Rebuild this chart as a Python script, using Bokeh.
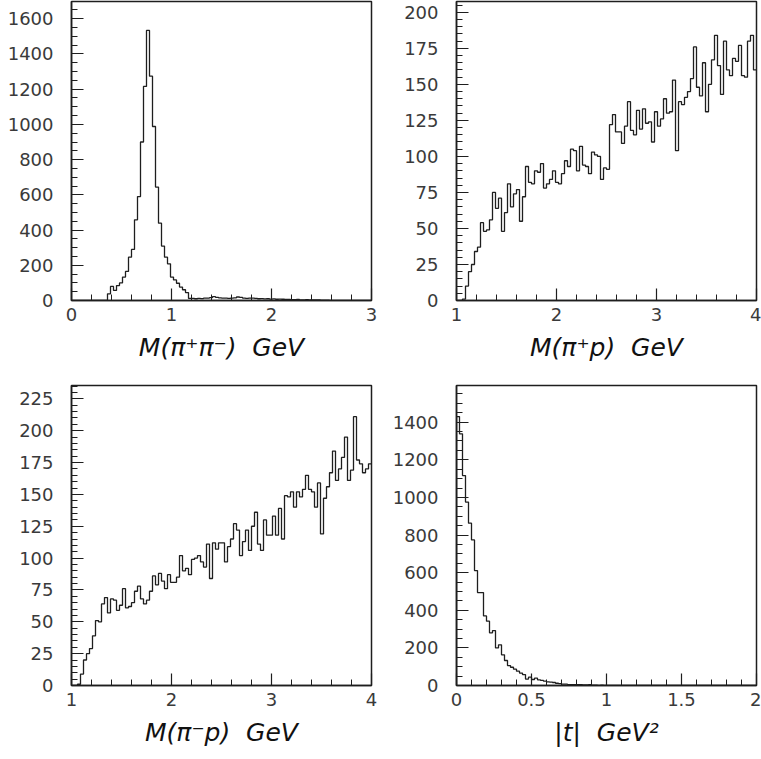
import numpy as np
from bokeh.plotting import figure
from bokeh.models import FixedTicker, Range1d, NumeralTickFormatter
from bokeh.layouts import column, row
from bokeh.embed import file_html
from bokeh.resources import INLINE

# ---------------- data (bin contents) ----------------
# M(pi+ pi-) : 100 bins, 0 .. 3 GeV
mpipi_lo, mpipi_width = 0.0, 0.03
mpipi_counts = [
    0, 0, 0, 0, 0, 0, 0, 0, 0, 0,
    0, 0, 38, 80, 57, 85, 100, 133, 165, 246,
    290, 458, 590, 900, 1216, 1534, 1274, 988, 644, 439,
    309, 246, 208, 133, 117, 98, 76, 61, 45, 12,
    12, 10, 12, 11, 13, 14, 16, 22, 18, 15,
    14, 13, 12, 14, 15, 20, 18, 14, 12, 13,
    14, 12, 10, 11, 9, 10, 8, 9, 7, 8,
    7, 6, 6, 5, 5, 6, 4, 4, 5, 3,
    4, 3, 3, 2, 2, 2, 1, 1, 1, 1,
    0, 0, 0, 0, 0, 0, 0, 0, 0, 0,
]

# M(pi+ p) : 100 bins, 1 .. 4 GeV
mpip_lo, mpip_width = 1.0, 0.03
mpip_counts = [
    0, 0, 1, 10, 20, 25, 34, 37, 54, 48,
    49, 56, 75, 64, 71, 48, 61, 81, 65, 74,
    77, 55, 72, 93, 82, 81, 90, 89, 95, 78,
    81, 84, 90, 82, 81, 88, 97, 93, 105, 104,
    90, 107, 94, 93, 88, 103, 101, 100, 84, 92,
    91, 122, 129, 117, 117, 109, 121, 138, 118, 115,
    132, 119, 133, 123, 124, 110, 131, 121, 126, 140,
    130, 131, 153, 104, 138, 136, 141, 145, 154, 176,
    148, 142, 165, 131, 150, 167, 184, 163, 143, 180,
    160, 156, 168, 166, 177, 156, 155, 180, 184, 160,
]

# M(pi- p) : 100 bins, 1 .. 4 GeV
mpimp_lo, mpimp_width = 1.0, 0.03
mpimp_counts = [
    0, 0, 1, 9, 20, 25, 29, 39, 51, 50,
    64, 69, 57, 68, 67, 59, 63, 76, 61, 62,
    65, 74, 78, 68, 64, 67, 74, 86, 79, 88,
    82, 76, 87, 81, 81, 85, 102, 90, 92, 87,
    99, 100, 102, 97, 93, 111, 84, 112, 107, 112,
    112, 97, 109, 115, 127, 122, 102, 113, 122, 106,
    125, 136, 111, 106, 130, 118, 118, 133, 118, 139,
    115, 149, 148, 152, 140, 152, 148, 154, 165, 154,
    152, 140, 159, 119, 147, 156, 167, 184, 161, 170,
    179, 195, 161, 169, 211, 177, 174, 167, 170, 174,
]

# |t| : 100 bins, 0 .. 2 GeV^2
t_lo, t_width = 0.0, 0.02
t_counts = [
    1430, 1338, 1116, 975, 863, 774, 611, 494, 494, 370,
    342, 280, 292, 200, 216, 163, 133, 106, 97, 87,
    76, 66, 58, 34, 44, 32, 39, 30, 27, 23,
    19, 18, 16, 12, 10, 7, 7, 5, 5, 5,
    4, 4, 3, 3, 4, 2, 2, 1, 2, 1,
    1, 1, 0, 1, 0, 0, 0, 0, 0, 0,
    0, 0, 0, 0, 0, 0, 0, 0, 0, 0,
    0, 0, 0, 0, 0, 0, 0, 0, 0, 0,
    0, 0, 0, 0, 0, 0, 0, 0, 0, 0,
    0, 0, 0, 0, 0, 0, 0, 0, 0, 0,
]

titles = ["M(\u03c0\u207a\u03c0\u207b)\u00a0\u00a0GeV",
          "M(\u03c0\u207ap)\u00a0\u00a0GeV",
          "M(\u03c0\u207bp)\u00a0\u00a0GeV",
          "|t|\u00a0\u00a0GeV\u00b2"]

INK = "#1e1e1e"
LABEL = "#3a3a3a"


def hist_fig(counts, lo, width, xr, yr, xmaj, xminor, ymaj, yminor, xlabel,
             fig_w, fig_h, b_left, b_right, b_top, b_bottom):
    p = figure(width=fig_w, height=fig_h,
               x_range=Range1d(*xr), y_range=Range1d(*yr),
               output_backend="svg", toolbar_location=None,
               min_border_left=b_left, min_border_right=b_right,
               min_border_top=b_top, min_border_bottom=b_bottom,
               background_fill_color="white", border_fill_color="white")
    p.grid.visible = False
    p.outline_line_color = INK
    p.outline_line_width = 1.5

    n = len(counts)
    edges = lo + width * np.arange(n + 1)
    xs = np.concatenate([[edges[0]], edges])
    ys = np.concatenate([[0.0], np.asarray(counts, float), [counts[-1]]])
    p.step(xs, ys, mode="after", line_color=INK, line_width=1.3)

    p.xaxis.ticker = FixedTicker(ticks=xmaj, minor_ticks=xminor)
    p.yaxis.ticker = FixedTicker(ticks=ymaj, minor_ticks=yminor)
    for ax in (p.xaxis[0], p.yaxis[0]):
        ax.formatter = NumeralTickFormatter(format="0.[0]")
        ax.axis_line_color = INK
        ax.axis_line_width = 1.5
        ax.major_tick_line_color = INK
        ax.minor_tick_line_color = INK
        ax.major_tick_line_width = 1.2
        ax.minor_tick_line_width = 1.0
        ax.major_tick_in = 12
        ax.major_tick_out = 0
        ax.minor_tick_in = 6
        ax.minor_tick_out = 0
        ax.major_label_text_font = "DejaVu Sans"
        ax.major_label_text_font_size = "18px"
        ax.major_label_text_color = LABEL
    p.yaxis.major_label_standoff = 18
    p.xaxis.major_label_standoff = 7
    p.xaxis.axis_label = xlabel
    p.xaxis.axis_label_text_font = "DejaVu Sans"
    p.xaxis.axis_label_text_font_style = "italic"
    p.xaxis.axis_label_text_font_size = "25px"
    p.xaxis.axis_label_text_color = "#111111"
    p.xaxis.axis_label_standoff = 9
    return p


def arange_ticks(a, b, step):
    k = int(round((b - a) / step))
    return [round(a + i * step, 6) for i in range(k + 1)]


p1 = hist_fig(mpipi_counts, mpipi_lo, mpipi_width, (0, 3), (0, 1698),
              arange_ticks(0, 3, 1), arange_ticks(0, 3, 0.2),
              arange_ticks(0, 1600, 200), arange_ticks(0, 1650, 50),
              titles[0], 380, 380, 71, 9, 1, 80)
p2 = hist_fig(mpip_counts, mpip_lo, mpip_width, (1, 4), (0, 207.5),
              arange_ticks(1, 4, 1), arange_ticks(1, 4, 0.2),
              arange_ticks(0, 200, 25), arange_ticks(0, 205, 5),
              titles[1], 381, 380, 76, 5, 1, 80)
p3 = hist_fig(mpimp_counts, mpimp_lo, mpimp_width, (1, 4), (0, 235.5),
              arange_ticks(1, 4, 1), arange_ticks(1, 4, 0.2),
              arange_ticks(0, 225, 25), arange_ticks(0, 235, 5),
              titles[2], 380, 379, 71, 9, 5, 74)
p4 = hist_fig(t_counts, t_lo, t_width, (0, 2), (0, 1595),
              arange_ticks(0, 2, 0.5), arange_ticks(0, 2, 0.1),
              arange_ticks(0, 1400, 200), arange_ticks(0, 1550, 50),
              titles[3], 381, 379, 76, 5, 5, 74)

layout = column(row(p1, p2), row(p3, p4))

open("out.html", "w").write(file_html(layout, INLINE))
